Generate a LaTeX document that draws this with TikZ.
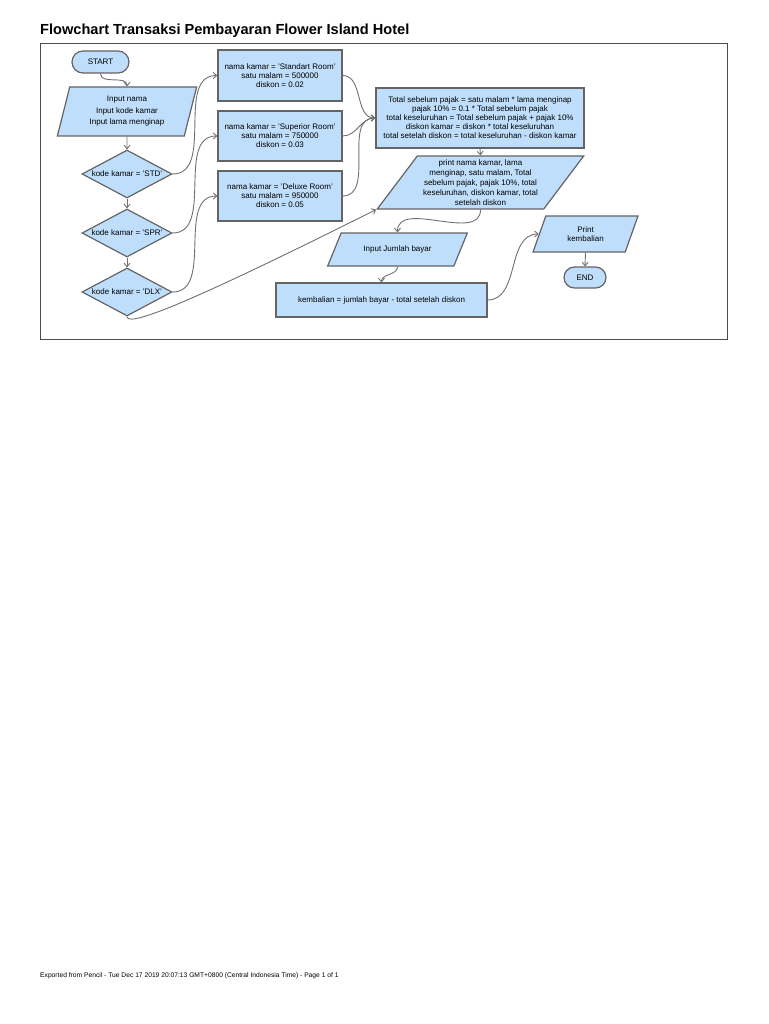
\documentclass[tikz,border=0pt]{standalone}
\usepackage{fontspec}
\setmainfont{Liberation Sans}
\usepackage{tikz}
\usetikzlibrary{arrows.meta,shapes.geometric,shapes.misc}

\definecolor{fillblue}{RGB}{191,222,251}
\definecolor{edgegray}{RGB}{100,100,100}
\definecolor{linegray}{RGB}{112,112,112}

\begin{document}
\begin{tikzpicture}[
    x=1pt, y=-1pt,
    font=\fontsize{8}{9}\selectfont,
    base/.style={draw=edgegray, fill=fillblue, line width=1.2pt, align=center, inner sep=2pt},
    terminal/.style={base, rounded rectangle},
    procbox/.style={base, rectangle},
    decision/.style={base, diamond, aspect=1.9, inner sep=0pt, minimum width=90pt, minimum height=48pt},
    iobox/.style={base, trapezium, trapezium stretches=true},
    arrow/.style={draw=linegray, line width=0.9pt, -{Straight Barb[length=3.5pt,width=6pt]}}
]
\useasboundingbox (0,0) rectangle (768,1024);

% ---------- Title and frame ----------
\node[anchor=base west, inner sep=0pt, font=\fontsize{14.6}{16}\selectfont\bfseries] (title) at (40,35)
    {Flowchart Transaksi Pembayaran Flower Island Hotel};
\draw[draw=black!70, line width=0.8pt] (40,43) rectangle (727,339);

% ---------- Left column ----------
\node[terminal, minimum width=61pt, minimum height=22pt] (start) at (100.5,62) {START};
\node[iobox, trapezium left angle=76, trapezium right angle=104, minimum width=140pt, minimum height=49pt,
      font=\fontsize{8}{11.5}\selectfont] (inp) at (127,111.5)
    {Input nama\\Input kode kamar\\Input lama menginap};
\node[decision] (std) at (127,174) {kode kamar = 'STD'};
\node[decision] (spr) at (127,233) {kode kamar = 'SPR'};
\node[decision] (dlx) at (127,292) {kode kamar = 'DLX'};

% ---------- Room boxes ----------
\node[procbox, minimum width=124pt, minimum height=51pt] (kstd) at (280,75.5)
    {nama kamar = 'Standart Room'\\satu malam = 500000\\diskon = 0.02};
\node[procbox, minimum width=124pt, minimum height=50pt] (kspr) at (280,136)
    {nama kamar = 'Superior Room'\\satu malam = 750000\\diskon = 0.03};
\node[procbox, minimum width=124pt, minimum height=50pt] (kdlx) at (280,196)
    {nama kamar = 'Deluxe Room'\\satu malam = 950000\\diskon = 0.05};

% ---------- Right part ----------
\node[procbox, minimum width=208pt, minimum height=60pt] (total) at (480,118)
    {Total sebelum pajak = satu malam * lama menginap\\pajak 10\% = 0.1 * Total sebelum pajak\\total keseluruhan = Total sebelum pajak + pajak 10\%\\diskon kamar = diskon * total keseluruhan\\total setelah diskon = total keseluruhan - diskon kamar};
\node[iobox, trapezium left angle=53, trapezium right angle=127, minimum width=207pt, minimum height=53pt,
      font=\fontsize{8}{10}\selectfont] (prt) at (480.5,182.5)
    {print nama kamar, lama\\menginap, satu malam, Total\\sebelum pajak, pajak 10\%, total\\keseluruhan, diskon kamar, total\\setelah diskon};
\node[iobox, trapezium left angle=53, trapezium right angle=127, minimum width=141pt, minimum height=33pt] (bayar) at (397.5,249.5)
    {Input Jumlah bayar};
\node[procbox, minimum width=211pt, minimum height=34pt] (kembali) at (381.5,300)
    {kembalian = jumlah bayar - total setelah diskon};
\node[iobox, trapezium left angle=71, trapezium right angle=109, minimum width=105pt, minimum height=36pt] (prtk) at (585.5,234)
    {Print\\kembalian};
\node[terminal, minimum width=46pt, minimum height=21pt] (fin) at (585,277.5) {END};

% ---------- Edges ----------
\draw[arrow] (start.south) to[out=-90, in=90] (inp.north);
\draw[arrow] (inp.south) -- (std.north);
\draw[arrow] (std.south) -- (spr.north);
\draw[arrow] (spr.south) -- (dlx.north);

\draw[arrow] (std.east) to[out=0, in=180] (kstd.west);
\draw[arrow] (spr.east) to[out=0, in=180] (kspr.west);
\draw[arrow] (dlx.east) to[out=0, in=180] (kdlx.west);

\draw[arrow] (kstd.east) to[out=0, in=180] (total.west);
\draw[arrow] (kspr.east) to[out=0, in=180] (total.west);
\draw[arrow] (kdlx.east) to[out=0, in=180] (total.west);

\draw[arrow] (total.south) -- (prt.north);
% DLX not matched: straight on to the output
\draw[arrow] (dlx.south) .. controls +(0,14) and +(-150,75) .. (prt.bottom left corner);

\draw[arrow] (prt.south) to[out=-90, in=90] (bayar.north);
\draw[arrow] (bayar.south) to[out=-90, in=90] (kembali.north);
\draw[arrow] (kembali.east) to[out=0, in=180] (prtk.west);
\draw[arrow] (prtk.south) -- (fin.north);

% ---------- Footer ----------
\node[anchor=base west, inner sep=0pt, font=\fontsize{6.7}{8}\selectfont] (footer) at (40,977)
    {Exported from Pencil - Tue Dec 17 2019 20:07:13 GMT+0800 (Central Indonesia Time) - Page 1 of 1};
\end{tikzpicture}
\end{document}
